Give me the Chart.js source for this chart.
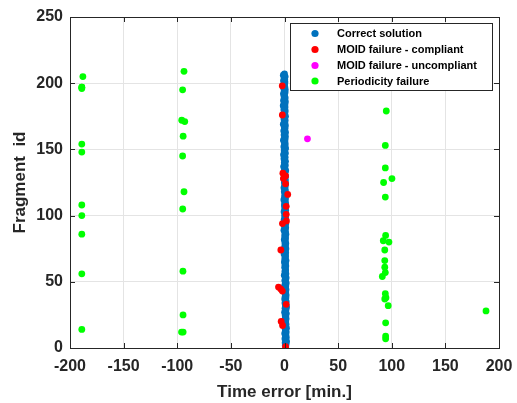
<!DOCTYPE html>
<html>
<head>
<meta charset="utf-8">
<script src="https://cdn.jsdelivr.net/npm/chart.js@4.4.1/dist/chart.umd.min.js"></script>
<style>
  body { margin: 0; background: #fff; }
  #wrap { width: 517px; height: 403px; }
</style>
</head>
<body>
<div id="wrap"><canvas id="fragChart" width="517" height="403"></canvas></div>
<script>
// time error [min.] of the correct solutions, fragment id = position + 1
var correctErr = [
  1.2, 0.8, 1.5, 0.6, 1.9, 1.1, 0.4, 1.7, 0.9, 1.3, 0.2, 1.6, 1.0, 0.7, 1.8, 1.2, 0.5, 1.4, 0.9, 1.1,
  0.3, 1.5, 0.8, 1.2, 0.6, 1.7, 0.1, 1.0, 1.4, 0.5, 1.9, 0.8, 1.2, 0.4, 1.6, 0.9, 0.2, 1.3, 0.7, 1.5,
  0.6, 1.1, 0.0, 1.4, 0.8, -0.3, 1.2, 0.5, 1.6, 0.9, 0.3, 1.0, 1.5, 0.6, -0.2, 1.3, 0.8, 0.4, 1.1, 0.7,
  0.2, 1.2, 0.5, 0.9, -0.1, 1.4, 0.6, 0.3, 1.0, 0.8, -0.4, 1.1, 0.4, 0.7, 1.3, 0.1, 0.9, 0.5, 1.2, 0.3,
  0.8, -0.2, 1.0, 0.6, 0.2, 1.3, 0.4, 0.9, -0.5, 0.7, 1.1, 0.0, 0.5, 1.2, 0.3, 0.8, -0.3, 1.0, 0.6, 0.1,
  0.9, 0.4, -0.4, 1.1, 0.5, 0.2, 0.8, -0.1, 1.0, 0.3, 0.7, -0.6, 0.9, 0.4, 0.1, 1.2, 0.6, -0.2, 0.8, 0.3,
  -0.5, 0.7, 0.2, 1.0, -0.1, 0.5, 0.8, -0.7, 0.4, 0.9, 0.1, -0.3, 0.6, 1.1, 0.0, 0.4, -0.8, 0.7, 0.3, -0.2,
  0.9, 0.1, -0.5, 0.6, 0.2, -0.9, 0.8, 0.3, -0.3, 0.5, 1.0, -0.6, 0.2, 0.7, -0.1, 0.4, -1.0, 0.6, 0.0, 0.8,
  -0.4, 0.3, 0.9, -0.7, 0.1, 0.5, -0.2, 0.8, -1.1, 0.4, 0.0, 0.6, -0.5, 0.2, 0.9, -0.8, 0.3, -0.1, 0.7, -0.6,
  0.1, 0.5, -1.2, 0.4, -0.3, 0.8, -0.9, 0.2, 0.6, -0.4, 0.0, -1.0, 0.5, -0.2, 0.7, -0.7, 0.3, -1.3, 0.1, -0.5,
  0.4, -0.9, 0.2, -0.3, 0.6, -1.1, 0.0
];

// MOID failure - compliant
var moidOkErr = [-2.1, -2.0, -1.5, 1.0, -1.0, 1.0, 3.0, 1.6, 1.6, 1.8, -1.9, -3.4, -5.6, -3.5, -2.0, 1.6, -3.1, -1.8, 1.0];
var moidOkId  = [198, 176, 132, 130, 128, 124, 116, 107, 101, 96, 94, 74, 46, 44.5, 43, 33, 20, 17, 1];

// MOID failure - uncompliant
var moidBadErr = [21.4];
var moidBadId  = [158];

// Periodicity failure
var periodErr = [
  -188, -189, -189, -189, -189, -189, -189, -189, -189, -189, -189,
  -93.7, -95, -95.8, -93, -94.5, -95, -93.7, -94.9, -94.7, -94.6, -94.5, -96,
  94.9, 94, 94, 100.2, 92.4, 94, 94.3, 92.1, 97.4, 93.5, 93.5, 93.5, 94, 91.2, 94, 94.6, 93.5, 96.7, 94.3, 94.3, 94.3,
  187.9
];
var periodId = [
  205, 197, 196, 154, 148, 108, 100, 86, 56, 14, 197,
  209, 195, 172, 171, 160, 145, 118, 105, 58, 25, 12, 12,
  179, 153, 136, 128, 125, 114, 85, 81, 80, 74, 66, 61, 57, 54, 41, 38, 37, 32, 19, 9, 7,
  28
];

var xTicks = [-200, -150, -100, -50, 0, 50, 100, 150, 200];
var yTicks = [0, 50, 100, 150, 200, 250];

var seriesNames = ['Correct solution', 'MOID failure - compliant', 'MOID failure - uncompliant', 'Periodicity failure'];
var seriesColors = ['#0072BD', '#FF0000', '#FF00FF', '#00FF00'];

function toPoints(xs, ys) {
  var pts = [];
  for (var i = 0; i < xs.length; i++) pts.push({x: xs[i], y: ys[i]});
  return pts;
}
var correctPts = [];
for (var i = 0; i < correctErr.length; i++) correctPts.push({x: correctErr[i], y: i + 1});

var AXIS_COL = '#262626';
var FONT = '"Liberation Sans", Arial, sans-serif';

// box + inward ticks + legend box, matlab style
var matlabFrame = {
  id: 'matlabFrame',
  afterDraw: function(chart) {
    var ctx = chart.ctx, a = chart.chartArea;
    var xs = chart.scales.x, ys = chart.scales.y;
    ctx.save();
    ctx.strokeStyle = AXIS_COL;
    ctx.lineWidth = 1;
    ctx.strokeRect(Math.round(a.left) + 0.5, Math.round(a.top) + 0.5, Math.round(a.right - a.left), Math.round(a.bottom - a.top));
    ctx.beginPath();
    xTicks.forEach(function(v) {
      var px = Math.round(xs.getPixelForValue(v)) + 0.5;
      ctx.moveTo(px, a.bottom); ctx.lineTo(px, a.bottom - 5);
      ctx.moveTo(px, a.top); ctx.lineTo(px, a.top + 5);
    });
    yTicks.forEach(function(v) {
      var py = Math.round(ys.getPixelForValue(v)) + 0.5;
      ctx.moveTo(a.left, py); ctx.lineTo(a.left + 5, py);
      ctx.moveTo(a.right, py); ctx.lineTo(a.right - 5, py);
    });
    ctx.stroke();

    // legend
    var lx = 290.5, ly = 23.5, lw = 202, lh = 67;
    ctx.fillStyle = '#fff';
    ctx.fillRect(lx, ly, lw, lh);
    ctx.strokeRect(lx, ly, lw, lh);
    var rows = [33.5, 49.5, 65.5, 81];
    ctx.font = 'bold 11px ' + FONT;
    ctx.textBaseline = 'middle';
    ctx.textAlign = 'left';
    for (var k = 0; k < seriesNames.length; k++) {
      ctx.fillStyle = seriesColors[k];
      ctx.beginPath();
      ctx.arc(315, rows[k], 3.6, 0, Math.PI * 2);
      ctx.fill();
      ctx.fillStyle = '#000';
      ctx.fillText(seriesNames[k], 337, rows[k] + 0.5);
    }
    ctx.restore();
  }
};

var ctx = document.getElementById('fragChart');
var chart = new Chart(ctx, {
  type: 'scatter',
  data: {
    datasets: [
      { label: seriesNames[0], data: correctPts, backgroundColor: seriesColors[0], order: 4 },
      { label: seriesNames[1], data: toPoints(moidOkErr, moidOkId), backgroundColor: seriesColors[1], order: 3 },
      { label: seriesNames[2], data: toPoints(moidBadErr, moidBadId), backgroundColor: seriesColors[2], order: 2 },
      { label: seriesNames[3], data: toPoints(periodErr, periodId), backgroundColor: seriesColors[3], order: 1 }
    ]
  },
  options: {
    responsive: false,
    animation: false,
    layout: { padding: { top: 17, right: 18, left: 0, bottom: 0 } },
    elements: { point: { radius: 3.4, borderWidth: 0, hoverRadius: 3.4 } },
    plugins: { legend: { display: false }, tooltip: { enabled: false } },
    scales: {
      x: {
        type: 'linear', min: -200, max: 200,
        afterFit: function(s) { s.height = 55; s.paddingLeft = 0; s.paddingRight = 0; },
        afterBuildTicks: function(s) { s.ticks = xTicks.map(function(v) { return {value: v}; }); },
        grid: { color: '#e4e4e4', drawTicks: false },
        border: { display: false },
        ticks: { padding: 9, color: AXIS_COL, font: { family: FONT, size: 16, weight: 'bold' } },
        title: { display: true, text: 'Time error [min.]', color: AXIS_COL, padding: { top: 0, bottom: 0 },
                 font: { family: FONT, size: 17, weight: 'bold' } }
      },
      y: {
        type: 'linear', min: 0, max: 250,
        afterFit: function(s) { s.width = 70; s.paddingTop = 0; s.paddingBottom = 0; },
        afterBuildTicks: function(s) { s.ticks = yTicks.map(function(v) { return {value: v}; }); },
        grid: { color: '#e4e4e4', drawTicks: false },
        border: { display: false },
        ticks: { padding: 7, color: AXIS_COL, font: { family: FONT, size: 16, weight: 'bold' } },
        title: { display: true, text: 'Fragment  id', color: AXIS_COL, padding: { top: 10, bottom: 0 },
                 font: { family: FONT, size: 17, weight: 'bold' } }
      }
    }
  },
  plugins: [matlabFrame]
});
</script>
</body>
</html>
